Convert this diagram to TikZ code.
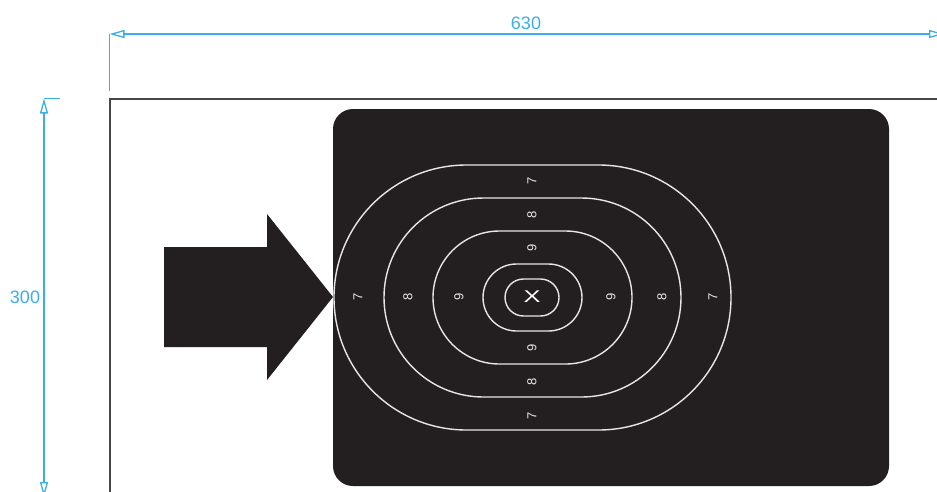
\documentclass[tikz,border=0pt]{standalone}
\usepackage{fontspec}
\setmainfont{Liberation Sans}
\usetikzlibrary{arrows.meta}
\definecolor{dimblue}{HTML}{3DAEE4}
\definecolor{cardblack}{HTML}{231F20}
\definecolor{ringwhite}{HTML}{E6E6E6}
\tikzset{
  dimline/.style={draw=dimblue,line width=1.3pt},
  dimtip/.style={dimline,{Triangle[open,length=15pt,width=8pt,line width=1.3pt]}-{Triangle[open,length=15pt,width=8pt,line width=1.3pt]}},
  dimtext/.style={text=dimblue,font=\fontsize{18}{20}\selectfont,inner sep=0pt},
  ring/.style={draw=ringwhite,line width=1.4pt,inner sep=0pt,rectangle},
  score/.style={text=ringwhite,font=\fontsize{13}{13}\selectfont,inner sep=0pt,rotate=90},
}
\begin{document}
\begin{tikzpicture}[x=1pt,y=-1pt]
\useasboundingbox (0,0) rectangle (937,491);
\fill[white] (0,0) rectangle (937,491);
% frame
\coordinate (frameTL) at (109.7,98.8);
\coordinate (frameTR) at (940,98.8);
\coordinate (frameBL) at (109.7,495);
\draw[line width=1.6pt,draw=black!72] (frameTR) -- (frameTL) -- (frameBL);
% card
\node[name=card,fill=cardblack,rectangle,rounded corners=20pt,minimum width=556pt,minimum height=377pt,inner sep=0pt] at (611,297.5) {};
% big arrow
\fill[cardblack] (164,247) -- (267,247) -- (267,214) -- (333,297) -- (267,380) -- (267,347) -- (164,347) -- cycle;
% rings
\node[ring,name=r7,rounded corners=132.5pt,minimum width=397pt,minimum height=265pt] at (532.5,297.5) {};
\node[ring,name=r8,rounded corners=99.5pt,minimum width=297pt,minimum height=199pt] at (532.5,297.5) {};
\node[ring,name=r9,rounded corners=66.5pt,minimum width=199pt,minimum height=133pt] at (532.5,297.5) {};
\node[ring,name=r10,rounded corners=33.5pt,minimum width=99pt,minimum height=67pt] at (532.5,297.5) {};
\node[ring,name=rx,rounded corners=18.5pt,minimum width=54pt,minimum height=37pt] at (532,297.5) {};
\node[name=xmark,text=white,inner sep=0pt,font=\fontsize{17}{17}\selectfont,xscale=1.5] at (532,297) {X};
% scores
\node[score,name=t7] at (532,181) {7};
\node[score,name=t8] at (532,215) {8};
\node[score,name=t9] at (532,248) {9};
\node[score,name=b9] at (532,348) {9};
\node[score,name=b8] at (532,382) {8};
\node[score,name=b7] at (532,416) {7};
\node[score,name=l7] at (358,297) {7};
\node[score,name=l8] at (408,297) {8};
\node[score,name=l9] at (459,297) {9};
\node[score,name=r9t] at (611,297) {9};
\node[score,name=r8t] at (662,297) {8};
\node[score,name=r7t] at (713,297) {7};
% dimensions
\coordinate (hA) at (109.5,34);
\coordinate (hB) at (944,34);
\coordinate (hT) at (109.5,91);
\coordinate (vA) at (44,98.5);
\coordinate (vB) at (44,497);
\coordinate (vT) at (60,98.5);
\draw[dimline] (hA) -- (hT);
\draw[dimline] (vA) -- (vT);
\draw[dimtip] (hA) -- (hB);
\draw[dimtip] (vA) -- (vB);
\node[dimtext,name=w] at (526,23) {630};
\node[dimtext,name=h] at (25,297) {300};
\end{tikzpicture}
\end{document}
